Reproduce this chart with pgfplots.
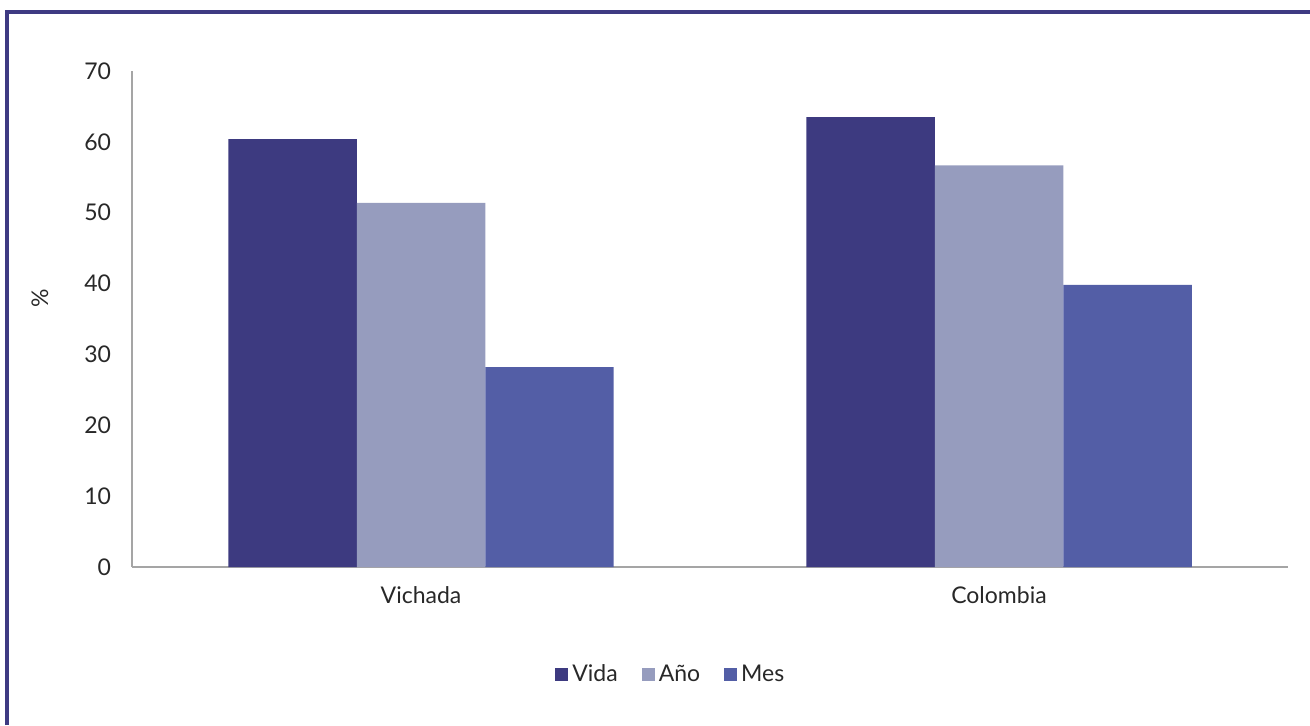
\documentclass[border=0pt]{standalone}
\usepackage{pgfplots}
\pgfplotsset{compat=1.18}
\usepackage{fontspec}
\setmainfont{Lato}
\definecolor{cVida}{RGB}{61,58,128}
\definecolor{cAno}{RGB}{150,156,190}
\definecolor{cMes}{RGB}{83,94,166}
\definecolor{frame}{RGB}{62,58,130}
\definecolor{txt}{RGB}{40,40,40}
\definecolor{axgray}{RGB}{165,165,165}
\begin{document}
\begin{tikzpicture}
\path[use as bounding box] (0,0) rectangle (655pt,362.5pt);
\draw[line width=2pt, frame] (3.5pt,0) -- (3.5pt,356.5pt) -- (656pt,356.5pt);
\begin{axis}[
  at={(66pt,79pt)}, anchor=south west,
  scale only axis, width=578pt, height=248pt,
  xmin=-0.5, xmax=1.5, ymin=0, ymax=70,
  axis x line*=bottom, axis y line*=left,
  axis line style={draw=axgray, line width=0.75pt},
  xtick=data, xticklabels={Vichada,Colombia},
  ytick={0,10,...,70},
  major tick length=0pt,
  font=\fontsize{11.5}{13}\selectfont,
  tick label style={text=txt},
  /pgf/number format/assume math mode=true,
  yticklabel style={xshift=-7pt},
  xticklabel style={yshift=-6pt},
  ylabel={\%},
  ylabel style={at={(axis description cs:-0.0796,0.542)}, anchor=center, text=txt},
  legend columns=-1,
  legend style={draw=none, at={(axis description cs:0.467,-0.2177)}, anchor=center,
    font=\fontsize{11.5}{13}\selectfont, text=txt,
    /tikz/every even column/.append style={column sep=10pt}},
  legend image code/.code={\fill[#1] (0pt,-3.25pt) rectangle (6.5pt,3.25pt);},
]
\addplot[ybar, bar width=0.2223, bar shift=-0.2223, fill=cVida, draw=none] coordinates {(0,60.4) (1,63.5)};
\addplot[ybar, bar width=0.2223, bar shift=0, fill=cAno, draw=none] coordinates {(0,51.4) (1,56.7)};
\addplot[ybar, bar width=0.2223, bar shift=0.2223, fill=cMes, draw=none] coordinates {(0,28.2) (1,39.8)};
\legend{Vida,Año,Mes}
\end{axis}
\end{tikzpicture}
\end{document}
